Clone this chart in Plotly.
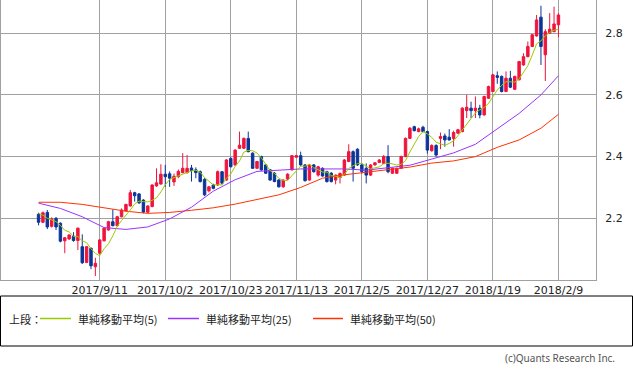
import pandas as pd
import plotly.graph_objects as go

# ---------------- data ----------------
us_holidays = ["2017-09-04", "2017-11-23", "2017-12-25", "2018-01-01", "2018-01-15"]
dates = [d.strftime("%Y-%m-%d") for d in
         pd.bdate_range("2017-08-21", "2018-02-09", freq="C", holidays=us_holidays)]

opens = [2.213, 2.187, 2.219, 2.174, 2.200, 2.184, 2.127, 2.133, 2.142, 2.128,
         2.108, 2.057, 2.103, 2.043, 2.087, 2.127, 2.162, 2.189, 2.176, 2.205,
         2.224, 2.240, 2.283, 2.279, 2.259, 2.220, 2.238, 2.305, 2.311, 2.343,
         2.344, 2.318, 2.335, 2.348, 2.348, 2.363, 2.357, 2.351, 2.326, 2.289,
         2.308, 2.308, 2.351, 2.324, 2.394, 2.373, 2.427, 2.427, 2.459, 2.411,
         2.362, 2.400, 2.373, 2.357, 2.346, 2.324, 2.302, 2.327, 2.357, 2.398,
         2.403, 2.373, 2.324, 2.373, 2.340, 2.362, 2.351, 2.346, 2.324, 2.332,
         2.340, 2.384, 2.416, 2.424, 2.373, 2.362, 2.340, 2.373, 2.381, 2.378,
         2.400, 2.346, 2.346, 2.362, 2.400, 2.459, 2.497, 2.481, 2.495, 2.481,
         2.419, 2.436, 2.459, 2.467, 2.463, 2.459, 2.476, 2.481, 2.549, 2.557,
         2.549, 2.557, 2.535, 2.589, 2.611, 2.662, 2.660, 2.611, 2.654, 2.618,
         2.649, 2.697, 2.724, 2.757, 2.791, 2.852, 2.730, 2.800, 2.805, 2.827]
highs = [2.218, 2.222, 2.227, 2.203, 2.204, 2.187, 2.139, 2.148, 2.155, 2.170,
         2.148, 2.110, 2.105, 2.072, 2.131, 2.170, 2.192, 2.229, 2.208, 2.232,
         2.247, 2.292, 2.286, 2.282, 2.262, 2.242, 2.310, 2.362, 2.375, 2.373,
         2.352, 2.345, 2.358, 2.411, 2.405, 2.373, 2.365, 2.355, 2.330, 2.305,
         2.312, 2.355, 2.353, 2.392, 2.398, 2.424, 2.481, 2.462, 2.481, 2.414,
         2.386, 2.403, 2.376, 2.360, 2.350, 2.327, 2.326, 2.346, 2.405, 2.405,
         2.416, 2.376, 2.376, 2.376, 2.370, 2.365, 2.354, 2.350, 2.342, 2.349,
         2.392, 2.440, 2.420, 2.427, 2.376, 2.378, 2.376, 2.382, 2.392, 2.405,
         2.437, 2.364, 2.364, 2.403, 2.462, 2.496, 2.500, 2.494, 2.500, 2.484,
         2.440, 2.440, 2.478, 2.475, 2.489, 2.484, 2.490, 2.560, 2.600, 2.578,
         2.595, 2.568, 2.597, 2.630, 2.668, 2.676, 2.663, 2.676, 2.678, 2.662,
         2.710, 2.735, 2.773, 2.797, 2.859, 2.889, 2.813, 2.865, 2.886, 2.865]
lows = [2.177, 2.184, 2.165, 2.170, 2.162, 2.122, 2.087, 2.130, 2.124, 2.097,
        2.052, 2.055, 2.035, 2.013, 2.085, 2.125, 2.160, 2.174, 2.174, 2.203,
        2.222, 2.238, 2.254, 2.247, 2.216, 2.216, 2.236, 2.302, 2.309, 2.302,
        2.302, 2.305, 2.330, 2.346, 2.345, 2.319, 2.330, 2.316, 2.272, 2.284,
        2.294, 2.305, 2.310, 2.322, 2.365, 2.370, 2.425, 2.425, 2.414, 2.360,
        2.360, 2.354, 2.344, 2.322, 2.317, 2.300, 2.299, 2.325, 2.355, 2.396,
        2.370, 2.319, 2.322, 2.348, 2.335, 2.335, 2.316, 2.316, 2.310, 2.313,
        2.338, 2.382, 2.319, 2.370, 2.345, 2.313, 2.337, 2.371, 2.379, 2.376,
        2.346, 2.344, 2.344, 2.360, 2.398, 2.457, 2.482, 2.479, 2.479, 2.410,
        2.416, 2.400, 2.424, 2.432, 2.452, 2.432, 2.474, 2.479, 2.525, 2.525,
        2.525, 2.524, 2.533, 2.587, 2.609, 2.636, 2.608, 2.609, 2.622, 2.616,
        2.647, 2.695, 2.722, 2.755, 2.789, 2.697, 2.645, 2.798, 2.803, 2.787]
closes = [2.187, 2.218, 2.172, 2.198, 2.172, 2.126, 2.137, 2.146, 2.128, 2.168,
          2.056, 2.108, 2.046, 2.054, 2.130, 2.168, 2.189, 2.176, 2.205, 2.227,
          2.245, 2.283, 2.273, 2.250, 2.220, 2.240, 2.308, 2.315, 2.343, 2.335,
          2.330, 2.336, 2.352, 2.362, 2.362, 2.355, 2.348, 2.319, 2.276, 2.302,
          2.297, 2.351, 2.314, 2.389, 2.367, 2.421, 2.437, 2.459, 2.416, 2.362,
          2.384, 2.357, 2.346, 2.324, 2.319, 2.302, 2.324, 2.343, 2.403, 2.403,
          2.373, 2.322, 2.373, 2.351, 2.367, 2.337, 2.319, 2.319, 2.340, 2.345,
          2.389, 2.416, 2.362, 2.373, 2.352, 2.340, 2.373, 2.380, 2.389, 2.400,
          2.351, 2.362, 2.362, 2.400, 2.459, 2.492, 2.484, 2.490, 2.481, 2.421,
          2.436, 2.405, 2.465, 2.454, 2.454, 2.478, 2.487, 2.557, 2.560, 2.549,
          2.557, 2.535, 2.595, 2.627, 2.665, 2.657, 2.611, 2.654, 2.625, 2.660,
          2.708, 2.724, 2.757, 2.795, 2.843, 2.757, 2.805, 2.813, 2.830, 2.859]

# first four 5-day averages (need closes before the window)
ma5_head = [2.216, 2.210, 2.200, 2.195]

ma25_idx = [0, 5, 10, 15, 20, 25, 30, 35, 40, 45, 50, 55, 60, 65, 70, 75, 80, 85,
            90, 95, 100, 105, 110, 115, 119]
ma25_vals = [2.249, 2.232, 2.205, 2.170, 2.164, 2.172, 2.198, 2.236, 2.288, 2.325,
             2.352, 2.357, 2.360, 2.360, 2.360, 2.356, 2.364, 2.372, 2.392, 2.412,
             2.440, 2.490, 2.540, 2.600, 2.662]
ma50_idx = ma25_idx
ma50_vals = [2.252, 2.252, 2.245, 2.235, 2.223, 2.216, 2.219, 2.226, 2.234, 2.246,
             2.262, 2.276, 2.300, 2.330, 2.341, 2.350, 2.358, 2.366, 2.379, 2.386,
             2.400, 2.430, 2.454, 2.492, 2.537]

tick_dates = ["2017-09-11", "2017-10-02", "2017-10-23", "2017-11-13",
              "2017-12-05", "2017-12-27", "2018-01-19", "2018-02-09"]
tick_text = ["2017/9/11", "2017/10/2", "2017/10/23", "2017/11/13",
             "2017/12/5", "2017/12/27", "2018/1/19", "2018/2/9"]
y_ticks = [2.2, 2.4, 2.6, 2.8]

legend_prefix = "上段："
legend_names = ["単純移動平均(5)", "単純移動平均(25)", "単純移動平均(50)"]
copyright_text = "(c)Quants Research Inc."

# ---------------- styles ----------------
RED = "#f0143c"
BLUE = "#0c3598"
C_MA5 = "#99cc00"
C_MA25 = "#9933ff"
C_MA50 = "#ff3300"
GRID = "#a0a0a0"

W, H = 633, 370
PL, PR, PT, PB = 1, 596, 0, 280  # plot area in pixels


def px(xp):
    return (xp - PL) / (PR - PL)


def py(yp):
    return (PB - yp) / (PB - PT)


ma5 = ma5_head + pd.Series(closes).rolling(5).mean().tolist()[4:]

fig = go.Figure()
fig.add_trace(go.Candlestick(
    x=dates, open=opens, high=highs, low=lows, close=closes,
    increasing=dict(line=dict(color=RED, width=1), fillcolor=RED),
    decreasing=dict(line=dict(color=BLUE, width=1), fillcolor=BLUE),
    whiskerwidth=0, showlegend=False, hoverinfo="skip"))
fig.add_trace(go.Scatter(x=[dates[i] for i in ma50_idx], y=ma50_vals, mode="lines",
                         line=dict(color=C_MA50, width=1), showlegend=False))
fig.add_trace(go.Scatter(x=[dates[i] for i in ma25_idx], y=ma25_vals, mode="lines",
                         line=dict(color=C_MA25, width=1), showlegend=False))
fig.add_trace(go.Scatter(x=dates, y=ma5, mode="lines",
                         line=dict(color=C_MA5, width=1), showlegend=False))

shapes = []
annotations = []
# legend box
shapes.append(dict(type="rect", xref="paper", yref="paper",
                   x0=px(0.5), x1=px(632.5), y0=py(296), y1=py(346),
                   line=dict(color="black", width=1), fillcolor="rgba(0,0,0,0)"))
annotations.append(dict(text=legend_prefix, x=px(7), y=py(319), xref="paper", yref="paper",
                        xanchor="left", yanchor="middle", showarrow=False,
                        font=dict(family="Noto Sans CJK JP", size=11, color="#222")))
for (x0, x1, tx), name, col in zip([(40, 71, 76), (168, 199, 204), (313, 343, 348)],
                                   legend_names, [C_MA5, C_MA25, C_MA50]):
    shapes.append(dict(type="line", xref="paper", yref="paper",
                       x0=px(x0), x1=px(x1), y0=py(318.5), y1=py(318.5),
                       line=dict(color=col, width=1.5)))
    annotations.append(dict(text=name, x=px(tx), y=py(319), xref="paper", yref="paper",
                            xanchor="left", yanchor="middle", showarrow=False,
                            font=dict(family="Noto Sans CJK JP", size=11, color="#222")))
annotations.append(dict(text=copyright_text, x=px(617), y=py(358), xref="paper", yref="paper",
                        xanchor="right", yanchor="middle", showarrow=False,
                        font=dict(family="Noto Sans", size=10, color="#555")))

fig.update_layout(
    width=W, height=H, autosize=False,
    margin=dict(l=PL, r=W - PR, t=PT, b=H - PB, pad=0),
    paper_bgcolor="white", plot_bgcolor="white",
    showlegend=False,
    shapes=shapes, annotations=annotations,
    boxgap=0.2,
    xaxis=dict(type="category", range=[-8.6, 127.6], rangeslider=dict(visible=False),
               tickmode="array", tickvals=tick_dates, ticktext=tick_text,
               showgrid=True, gridcolor=GRID, gridwidth=1,
               showline=True, linecolor=GRID, linewidth=1, mirror=True,
               ticks="", tickfont=dict(family="DejaVu Sans", size=11, color="#222"),
               fixedrange=True),
    yaxis=dict(range=[2.0, 2.9076], side="right", tickmode="array", tickvals=y_ticks,
               ticktext=[f"{v:.1f}" for v in y_ticks],
               showgrid=True, gridcolor=GRID, gridwidth=1, zeroline=False,
               showline=True, linecolor=GRID, linewidth=1, mirror=True,
               ticks="outside", ticklen=6, tickcolor="rgba(0,0,0,0)",
               tickfont=dict(family="DejaVu Sans", size=11, color="#222"),
               fixedrange=True),
)

fig.write_html(
    "out.html",
    config={"displayModeBar": False, "staticPlot": True},
    post_script="document.body.style.margin='0';document.body.style.overflow='hidden';",
)
